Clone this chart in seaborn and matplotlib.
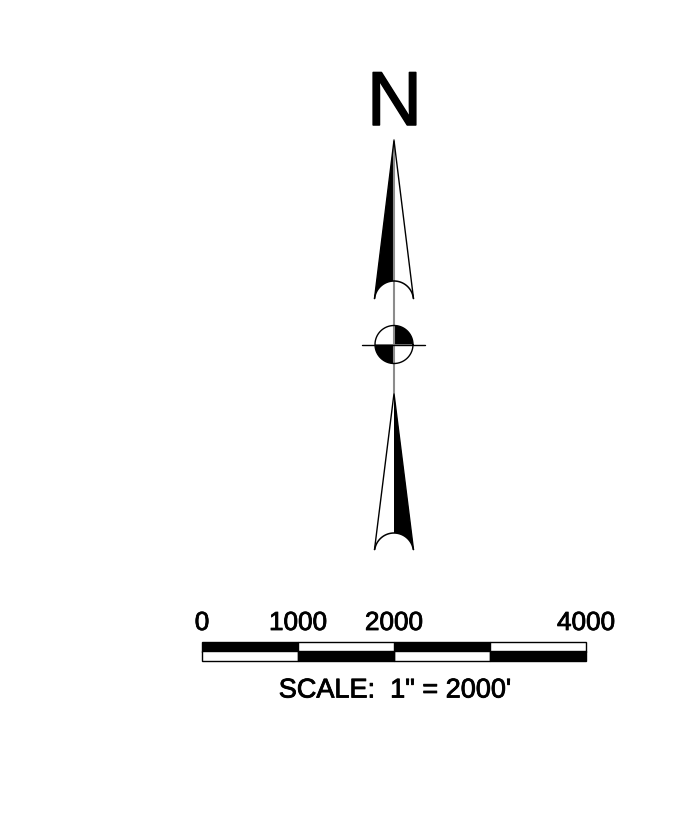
import numpy as np
import matplotlib
matplotlib.use('Agg')
import matplotlib.pyplot as plt
import matplotlib.patheffects as pe
import seaborn as sns

# scale bar values, in feet
seg_centres = [500, 1500, 2500, 3500]
top_row = ['black', 'white', 'black', 'white']
bottom_row = ['white', 'black', 'white', 'black']
tick_values = [0, 1000, 2000, 4000]
scale_text = "SCALE:  1\" = 2000'"
north_text = 'N'

# 96 px on the picture are 1000 ft
FT_PER_PX = 1000 / 96
BAR_LEFT_PX = 202
IMG_W, IMG_H = 690, 828


def fx(px):
    return (np.asarray(px, dtype=float) - BAR_LEFT_PX) * FT_PER_PX


def fy(py):
    return (IMG_H - np.asarray(py, dtype=float)) * FT_PER_PX


def draw_needle(ax, tip_y, base_y, arc_centre_y, black_side):
    # black_side: -1 fills the left half, 1 the right half
    cx, half = 394, 19.5
    th = np.linspace(np.pi, 0, 61)
    arc_x = cx + half * np.cos(th)
    arc_y = np.minimum(arc_centre_y - half * np.sin(th), base_y)
    side = arc_x <= cx if black_side < 0 else arc_x >= cx
    xs, ys = arc_x[side], arc_y[side]
    if black_side > 0:
        xs, ys = xs[::-1], ys[::-1]
    ax.fill(fx(np.r_[cx, cx + black_side * half, xs, cx]),
            fy(np.r_[tip_y, base_y, ys, tip_y]), color='black', lw=0)
    ax.plot(fx([cx - half, cx, cx + half]), fy([base_y, tip_y, base_y]), color='black', lw=1,
            solid_joinstyle='bevel')
    ax.plot(fx(arc_x), fy(arc_y), color='black', lw=1.1)


sns.set_theme(style='white')
plt.rcParams['font.family'] = ['Liberation Sans', 'DejaVu Sans']

fig = plt.figure(figsize=(6.9, 8.28), dpi=100)
ax = fig.add_axes([0, 0, 1, 1])

# scale bar, two rows of alternating blocks
bar_h = 10 * FT_PER_PX
for row, bottom in [(top_row, fy(652.5)), (bottom_row, fy(662))]:
    sns.barplot(x=seg_centres, y=[bar_h] * 4, hue=row, palette={'black': 'black', 'white': 'white'},
                native_scale=True, width=1, dodge=False, bottom=bottom, orient='x',
                edgecolor='black', linewidth=1, legend=False, ax=ax)

# needles
ax.plot(fx([394, 394]), fy([141, 394]), color='#8c8c8c', lw=1.5)
draw_needle(ax, 141.5, 299.5, 301.5, -1)
draw_needle(ax, 394.5, 550.5, 553.5, 1)

# centre mark
t = np.linspace(0, 2 * np.pi, 201)
ax.fill(fx(394 + 19 * np.r_[0, np.cos(t[:51])]), fy(345.5 - 19 * np.r_[0, np.sin(t[:51])]), color='black', lw=0)
ax.fill(fx(394 + 19 * np.r_[0, np.cos(t[100:151])]), fy(345.5 - 19 * np.r_[0, np.sin(t[100:151])]), color='black', lw=0)
ax.plot(fx(394 + 19 * np.cos(t)), fy(345.5 - 19 * np.sin(t)), color='black', lw=1)
ax.plot(fx([362, 425]), fy([345.5, 345.5]), color='black', lw=1)

# text, thickened a little like the plotted lettering in the original
heavy = [pe.withStroke(linewidth=0.6, foreground='black')]
heavy_n = [pe.withStroke(linewidth=1.1, foreground='black')]
ax.text(fx(394.5), fy(126), north_text, fontsize=55, ha='center', va='baseline', color='black',
        path_effects=heavy_n)
for v in tick_values:
    ax.text(v, fy(631), str(v), fontsize=18.8, ha='center', va='baseline', color='black',
            path_effects=heavy)
ax.text(fx(395), fy(698.5), scale_text, fontsize=19.5, ha='center', va='baseline', color='black',
        path_effects=heavy)

ax.set_xlim(fx(0), fx(IMG_W))
ax.set_ylim(fy(IMG_H), fy(0))
ax.axis('off')

fig.savefig('out.png', dpi=100, facecolor='white')
